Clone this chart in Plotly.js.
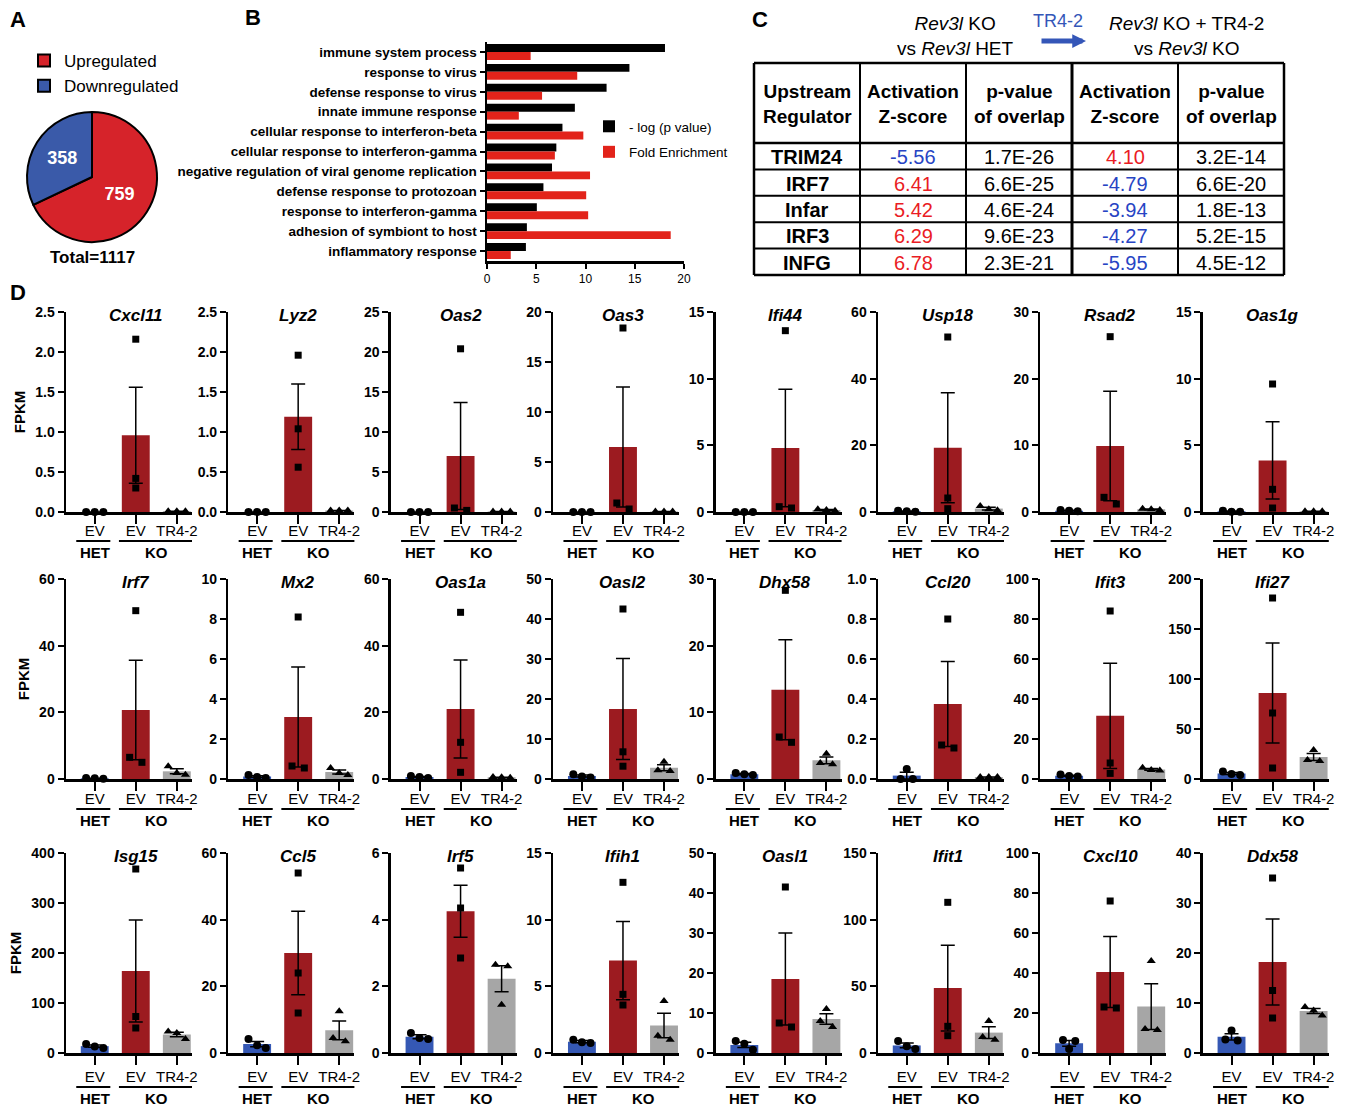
<!DOCTYPE html>
<html><head><meta charset="utf-8">
<script src="https://cdn.plot.ly/plotly-3.0.1.min.js"></script>
<style>html,body{margin:0;padding:0;background:#fff}#chart{width:1350px;height:1107px}</style>
</head><body><div id="chart"></div>
<script>
// ---------- Panel A data ----------
const pieLabels = ['Upregulated', 'Downregulated'];
const pieValues = [759, 358];
const pieTotalText = 'Total=1117';

// ---------- Panel B data ----------
const goTerms = ['immune system process', 'response to virus', 'defense response to virus',
  'innate immune response', 'cellular response to interferon-beta', 'cellular response to interferon-gamma',
  'negative regulation of viral genome replication', 'defense response to protozoan',
  'response to interferon-gamma', 'adhesion of symbiont to host', 'inflammatory response'];
const negLogP = [18.07, 14.46, 12.14, 8.92, 7.66, 7.04, 6.60, 5.73, 5.06, 4.05, 3.95];
const foldEnrichment = [4.43, 9.16, 5.59, 3.23, 9.78, 6.89, 10.46, 10.07, 10.27, 18.65, 2.41];
const seriesNamesB = ['- log (p value)', 'Fold Enrichment'];

// ---------- Panel C data ----------
const tableHeaders = ['Upstream<br>Regulator', 'Activation<br>Z-score', 'p-value<br>of overlap', 'Activation<br>Z-score', 'p-value<br>of overlap'];
const regulators = ['TRIM24', 'IRF7', 'Infar', 'IRF3', 'INFG'];
const zKOvsHET = [-5.56, 6.41, 5.42, 6.29, 6.78];
const pKOvsHET = ['1.7E-26', '6.6E-25', '4.6E-24', '9.6E-23', '2.3E-21'];
const zTRvsKO = [4.10, -4.79, -3.94, -4.27, -5.95];
const pTRvsKO = ['3.2E-14', '6.6E-20', '1.8E-13', '5.2E-15', '4.5E-12'];

// ---------- Panel D data ----------
const genes = ['Cxcl11','Lyz2','Oas2','Oas3','Ifi44','Usp18','Rsad2','Oas1g',
  'Irf7','Mx2','Oas1a','Oasl2','Dhx58','Ccl20','Ifit3','Ifi27',
  'Isg15','Ccl5','Irf5','Ifih1','Oasl1','Ifit1','Cxcl10','Ddx58'];
const yMax  = [2.5,2.5,25,20,15,60,30,15, 60,10,60,50,30,1.0,100,200, 400,60,6,15,50,150,100,40];
const yStep = [0.5,0.5,5,5,5,20,10,5, 20,2,20,10,10,0.2,20,50, 100,20,2,5,10,50,20,10];
const groupTicks = ['EV', 'EV', 'TR4-2'];
const hetPoints = [[0,0,0],[0,0,0],[0,0,0],[0,0,0],[0,0,0],[0.4,0.2,0.1],[0.3,0.2,0.1],[0.1,0.02,0.02],
  [0.3,0.2,0.1],[0.2,0.1,0.05],[0.9,0.6,0.3],[1.2,0.6,0.4],[0.9,0.7,0.6],[0.05,0,0],[2.2,1.5,1.2],[7.5,5,4],
  [18,13,10],[4.2,2.3,1.5],[0.6,0.45,0.42],[1.0,0.8,0.75],[3.0,2.3,0.8],[9,5,3],[6.5,6,2],[4.5,2.7,2.5]];
const koPoints = [[2.16,0.42,0.30],[1.96,1.04,0.56],[20.4,0.5,0.2],[18.4,0.9,0.3],[13.6,0.4,0.3],[52.5,4.2,1.0],[26.3,2.2,1.2],[9.6,1.7,0.3],
  [50.5,6.5,5.0],[8.1,0.65,0.55],[50,11,2],[42.5,6.8,3.2],[28.3,6.3,5.5],[0.80,0.17,0.155],[84,8,2.8],[181,66,11],
  [368,73,50],[54,24,12],[5.55,4.35,2.85],[12.8,4.4,3.6],[41.5,7.5,6.5],[113,20,13],[76,23,22.5],[35,12.5,7]];
const tr42Points = [[0.01,0.01,0.01],[0.02,0.02,0.02],[0.05,0.05,0.05],[0.05,0.05,0.05],[0.2,0.15,0.1],[1.8,0.8,0.5],[0.5,0.4,0.3],[0.05,0.05,0.05],
  [3.8,1.8,1.3],[0.55,0.3,0.2],[0.6,0.5,0.4],[4.3,2.2,2.0],[3.8,2.4,2.2],[0.01,0.01,0.01],[5.6,4.5,4.2],[29,19,18],
  [43,40,28],[12.5,4.5,3.5],[2.65,2.6,1.45],[3.9,1.3,1.0],[11,8,6.5],[24,12,10],[46,12,11.5],[9.2,8.5,7.5]];
const hetMean = [0,0,0,0,0,0.23,0.2,0.05, 0.2,0.12,0.6,0.73,0.73,0.017,1.63,5.5, 13.7,2.67,0.49,0.85,2.03,5.67,4.83,3.23];
const hetSem  = [0,0,0,0,0,0.09,0.06,0.03, 0.06,0.04,0.17,0.24,0.09,0.017,0.3,1.0, 2.3,0.8,0.06,0.08,0.65,1.8,1.4,0.64];
const koMean  = [0.96,1.19,7.0,6.5,4.8,19.3,9.9,3.87, 20.7,3.1,21,17.5,13.4,0.375,31.6,86, 164,30,4.25,6.93,18.5,48.7,40.5,18.2];
const koSem   = [0.60,0.41,6.7,6.0,4.4,16.5,8.2,2.9, 14.9,2.5,14.7,12.6,7.5,0.213,26.3,50, 102,12.5,0.78,2.94,11.5,32.2,17.7,8.6];
const tr42Mean = [0.01,0.02,0.05,0.05,0.15,1.03,0.4,0.05, 2.3,0.35,0.5,2.83,2.8,0.01,4.77,22, 37,6.8,2.23,2.07,8.5,15.3,23.2,8.4];
const tr42Sem  = [0,0,0,0,0.03,0.4,0.06,0, 0.76,0.1,0.06,0.74,0.5,0,0.43,3.5, 4.6,2.8,0.39,0.92,1.3,4.4,11.4,0.5];

// ---------- geometry & style ----------
const W = 1350, H = 1107;
const fx = x => x / W, fy = y => 1 - y / H;
const FONT = 'Liberation Sans, Arial, Helvetica, sans-serif';
const BLACK = '#000';
const groupColors = ['#3558b4', '#9c1b20', '#a6a6a6'];
const groupSymbols = ['circle', 'square', 'triangle-up'];
const symbolSizes = [8, 7, 8];
const colX = c => 66 + 162.4 * c;
const plotW = 126;
const rowTopY = [312, 579, 853];
const rowZeroY = [512, 779, 1053];
const rowLabelStandoff = [-6, -5, -1];   // px shift of EV/TR4-2 tick labels per row
const rowUnderline = [29, 30, 34];        // px below zero line
const rowGroupLabel = [40, 41, 45];       // px below zero line

const traces = [], shapes = [], annotations = [];
const layout = {
  width: W, height: H, margin: {l: 0, r: 0, t: 0, b: 0},
  paper_bgcolor: '#fff', plot_bgcolor: 'rgba(0,0,0,0)',
  font: {family: FONT, color: BLACK},
  barmode: 'group', bargap: 0.2, bargroupgap: 0,
  showlegend: true,
  legend: {x: fx(24), y: fy(43), xanchor: 'left', yanchor: 'top', bgcolor: 'rgba(0,0,0,0)',
    font: {family: FONT, size: 17, color: BLACK}, tracegroupgap: 0},
  legend2: {x: fx(589), y: fy(111), xanchor: 'left', yanchor: 'top', bgcolor: 'rgba(0,0,0,0)',
    font: {family: FONT, size: 13.5, color: BLACK}, tracegroupgap: 5, traceorder: 'grouped'},
  shapes: shapes, annotations: annotations
};

// ---------- Panel A ----------
traces.push({
  type: 'pie', labels: pieLabels, values: pieValues, sort: false, direction: 'clockwise', rotation: 0,
  marker: {colors: ['#d6232a', '#3a5aa9'], line: {color: BLACK, width: 2}},
  textinfo: 'value', textposition: 'inside', insidetextorientation: 'horizontal',
  textfont: {family: FONT, size: 18, color: '#fff', weight: 'bold'},
  domain: {x: [fx(27), fx(157)], y: [fy(242), fy(112)]},
  hoverinfo: 'skip', legend: 'legend'
});
annotations.push({xref: 'paper', yref: 'paper', x: fx(92), y: fy(257), text: pieTotalText, showarrow: false,
  font: {family: FONT, size: 17, weight: 'bold'}, xanchor: 'center', yanchor: 'middle'});

// ---------- Panel B ----------
traces.push({type: 'bar', orientation: 'h', x: negLogP, y: goTerms, name: seriesNamesB[0],
  marker: {color: '#000'}, xaxis: 'x', yaxis: 'y', legend: 'legend2', legendgroup: 'a', hoverinfo: 'skip'});
traces.push({type: 'bar', orientation: 'h', x: foldEnrichment, y: goTerms, name: seriesNamesB[1],
  marker: {color: '#e2231a'}, xaxis: 'x', yaxis: 'y', legend: 'legend2', legendgroup: 'b', hoverinfo: 'skip'});
layout.xaxis = {domain: [fx(487), fx(684)], anchor: 'y', range: [0, 20], tickvals: [0, 5, 10, 15, 20],
  ticks: 'outside', ticklen: 5, tickwidth: 2, tickcolor: BLACK, showline: true, linewidth: 2.5, linecolor: BLACK,
  showgrid: false, zeroline: false, tickfont: {family: FONT, size: 12, color: BLACK}, fixedrange: true};
layout.yaxis = {domain: [fy(261), fy(42)], anchor: 'x', type: 'category', autorange: 'reversed',
  ticks: 'outside', ticklen: 5, tickwidth: 2, tickcolor: BLACK, showline: true, linewidth: 2.5, linecolor: BLACK,
  showgrid: false, zeroline: false, tickfont: {family: FONT, size: 13.5, color: BLACK, weight: 'bold'}, fixedrange: true};

// ---------- Panel C (table) ----------
const tblLeft = 754, tblColW = 106, tblTop = 63, tblHeadH = 80, tblRowH = 26.4;
const tblBottom = tblTop + tblHeadH + tblRowH * regulators.length;
const tblRight = tblLeft + tblColW * tableHeaders.length;
const hline = (y, w) => shapes.push({type: 'line', xref: 'paper', yref: 'paper', x0: fx(tblLeft), x1: fx(tblRight), y0: fy(y), y1: fy(y), line: {color: BLACK, width: w}});
const vline = (x, w) => shapes.push({type: 'line', xref: 'paper', yref: 'paper', x0: fx(x), x1: fx(x), y0: fy(tblTop), y1: fy(tblBottom), line: {color: BLACK, width: w}});
hline(tblTop, 2.5); hline(tblTop + tblHeadH, 2.5); hline(tblBottom, 2.5);
for (let k = 1; k < regulators.length; k++) hline(tblTop + tblHeadH + k * tblRowH, 2);
for (let j = 0; j <= tableHeaders.length; j++) vline(tblLeft + j * tblColW, (j === 0 || j === tableHeaders.length) ? 2.5 : (j === 3 ? 3 : 2));
tableHeaders.forEach((h, j) => annotations.push({xref: 'paper', yref: 'paper', x: fx(tblLeft + (j + 0.5) * tblColW), y: fy(tblTop + tblHeadH / 2 + 1),
  text: '<b>' + h.replace('<br>', '</b><br><b>') + '</b>', showarrow: false, xanchor: 'center', yanchor: 'middle',
  font: {family: FONT, size: 19, color: BLACK}}));
const zColor = v => v < 0 ? '#2744c4' : '#ea1c24';
const tableCols = [
  regulators.map(r => ({t: '<b>' + r + '</b>', c: BLACK})),
  zKOvsHET.map(v => ({t: v.toFixed(2), c: zColor(v)})),
  pKOvsHET.map(v => ({t: v, c: BLACK})),
  zTRvsKO.map(v => ({t: v.toFixed(2), c: zColor(v)})),
  pTRvsKO.map(v => ({t: v, c: BLACK}))
];
tableCols.forEach((col, j) => col.forEach((cell, k) => annotations.push({
  xref: 'paper', yref: 'paper', x: fx(tblLeft + (j + 0.5) * tblColW), y: fy(tblTop + tblHeadH + (k + 0.5) * tblRowH + 1),
  text: cell.t, showarrow: false, xanchor: 'center', yanchor: 'middle', font: {family: FONT, size: 20, color: cell.c}})));
annotations.push({xref: 'paper', yref: 'paper', x: fx(955), y: fy(36), text: '<i>Rev3l</i> KO<br>vs <i>Rev3l</i> HET',
  showarrow: false, xanchor: 'center', yanchor: 'middle', font: {family: FONT, size: 19, color: BLACK}});
annotations.push({xref: 'paper', yref: 'paper', x: fx(1186), y: fy(36), text: '<i>Rev3l</i> KO + TR4-2<br>vs <i>Rev3l</i> KO',
  showarrow: false, xanchor: 'center', yanchor: 'middle', font: {family: FONT, size: 19, color: BLACK}});
annotations.push({xref: 'paper', yref: 'paper', x: fx(1058), y: fy(21), text: 'TR4-2',
  showarrow: false, xanchor: 'center', yanchor: 'middle', font: {family: FONT, size: 18, color: '#3456b8'}});
annotations.push({xref: 'paper', yref: 'paper', x: fx(1086), y: fy(41), ax: -46, ay: 0, text: '',
  showarrow: true, arrowhead: 2, arrowsize: 0.55, arrowwidth: 5, arrowcolor: '#3456b8'});

// ---------- Panel labels ----------
[['A', 18, 20], ['B', 253, 18], ['C', 760, 20], ['D', 18, 292]].forEach(([t, x, y]) => annotations.push({
  xref: 'paper', yref: 'paper', x: fx(x), y: fy(y), text: '<b>' + t + '</b>', showarrow: false,
  xanchor: 'center', yanchor: 'middle', font: {family: FONT, size: 22, color: BLACK}}));

// ---------- Panel D ----------
function spread(vals, max) {
  const order = vals.map((v, i) => i).sort((a, b) => vals[b] - vals[a]);
  const off = vals.map(() => 0);
  const clusters = []; let cur = [order[0]];
  for (let k = 1; k < order.length; k++) {
    if ((vals[order[k - 1]] - vals[order[k]]) / max * 200 < 7) cur.push(order[k]);
    else { clusters.push(cur); cur = [order[k]]; }
  }
  clusters.push(cur);
  clusters.forEach(cl => {
    if (cl.length === 2) { off[cl[0]] = -0.15; off[cl[1]] = 0.15; }
    if (cl.length === 3) { off[cl[0]] = -0.21; off[cl[1]] = 0; off[cl[2]] = 0.21; }
  });
  return off;
}

genes.forEach((g, i) => {
  const r = Math.floor(i / 8), c = i % 8, n = i + 2;
  const xa = 'x' + n, ya = 'y' + n;
  const x0 = colX(c);
  const tv = [];
  for (let v = 0; v <= yMax[i] + 1e-9; v += yStep[i]) tv.push(+v.toFixed(4));
  layout['xaxis' + n] = {domain: [fx(x0), fx(x0 + plotW)], anchor: ya, range: [-0.7, 2.37],
    tickmode: 'array', tickvals: [0, 1, 2], ticktext: groupTicks,
    ticks: 'outside', ticklen: 9, tickwidth: 2, tickcolor: BLACK, showline: true, linewidth: 2.5, linecolor: BLACK,
    ticklabelstandoff: rowLabelStandoff[r],
    showgrid: false, zeroline: false, tickfont: {family: FONT, size: 15, color: BLACK}, fixedrange: true};
  layout['yaxis' + n] = {domain: [fy(rowZeroY[r]), fy(rowTopY[r])], anchor: xa, range: [0, yMax[i]],
    tickmode: 'array', tickvals: tv, tickformat: yStep[i] < 1 ? '.1f' : 'd',
    ticks: 'outside', ticklen: 6, tickwidth: 2, tickcolor: BLACK, showline: true, linewidth: 2.5, linecolor: BLACK,
    showgrid: false, zeroline: false, tickfont: {family: FONT, size: 14, color: BLACK, weight: 'bold'}, fixedrange: true};
  if (c === 0) layout['yaxis' + n].title = {text: 'FPKM', font: {family: FONT, size: 15, color: BLACK, weight: 'bold'}, standoff: 6};

  traces.push({type: 'bar', xaxis: xa, yaxis: ya, x: [0, 1, 2], y: [hetMean[i], koMean[i], tr42Mean[i]],
    width: 0.68, marker: {color: groupColors, line: {width: 0}},
    error_y: {type: 'data', array: [hetSem[i], koSem[i], tr42Sem[i]], visible: true, color: BLACK, thickness: 1.5, width: 7},
    showlegend: false, hoverinfo: 'skip'});

  const groups = [hetPoints[i], koPoints[i], tr42Points[i]];
  const px = [], py = [], sym = [], sz = [];
  groups.forEach((vals, gi) => {
    const off = spread(vals, yMax[i]);
    vals.forEach((v, k) => { px.push(gi + off[k]); py.push(v); sym.push(groupSymbols[gi]); sz.push(symbolSizes[gi]); });
  });
  traces.push({type: 'scatter', mode: 'markers', xaxis: xa, yaxis: ya, x: px, y: py, cliponaxis: false,
    marker: {color: BLACK, opacity: 1, symbol: sym, size: sz, line: {width: 0}}, showlegend: false, hoverinfo: 'skip'});

  annotations.push({xref: xa, yref: 'paper', x: 1, y: fy(rowTopY[r] + 3), text: '<i>' + g + '</i>', showarrow: false,
    xanchor: 'center', yanchor: 'middle', font: {family: FONT, size: 17, color: BLACK, weight: 'bold'}});
  const uy = fy(rowZeroY[r] + rowUnderline[r]);
  shapes.push({type: 'line', xref: xa, yref: 'paper', x0: -0.45, x1: 0.38, y0: uy, y1: uy, line: {color: BLACK, width: 2}});
  shapes.push({type: 'line', xref: xa, yref: 'paper', x0: 0.59, x1: 2.42, y0: uy, y1: uy, line: {color: BLACK, width: 2}});
  const gy = fy(rowZeroY[r] + rowGroupLabel[r]);
  annotations.push({xref: xa, yref: 'paper', x: 0, y: gy, text: '<b>HET</b>', showarrow: false,
    xanchor: 'center', yanchor: 'middle', font: {family: FONT, size: 15, color: BLACK}});
  annotations.push({xref: xa, yref: 'paper', x: 1.5, y: gy, text: '<b>KO</b>', showarrow: false,
    xanchor: 'center', yanchor: 'middle', font: {family: FONT, size: 15, color: BLACK}});
});

Plotly.newPlot('chart', traces, layout, {staticPlot: true, displayModeBar: false});
</script></body></html>
